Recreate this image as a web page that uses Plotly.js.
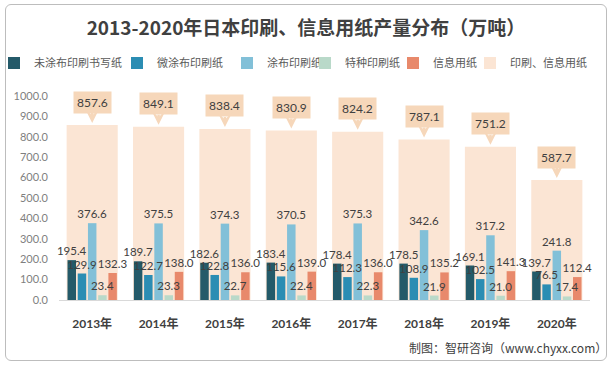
<!DOCTYPE html>
<html>
<head>
<meta charset="utf-8">
<script src="https://cdn.plot.ly/plotly-3.0.1.min.js"></script>
<style>
html,body{margin:0;padding:0;background:#fff;}
#wrap{position:relative;width:612px;height:369px;}
#chart{position:absolute;left:0;top:0;width:612px;height:369px;}
#frame{position:absolute;left:5px;top:4px;width:600px;height:355px;border:1px solid #bdbdbd;border-radius:6px;pointer-events:none;}
</style>
</head>
<body>
<div id="wrap"><div id="chart"></div><div id="frame"></div></div>
<script>
const years = ['2013年','2014年','2015年','2016年','2017年','2018年','2019年','2020年'];
const uncoated = [195.4,189.7,182.6,183.4,178.4,178.5,169.1,139.7];
const lightCoated = [129.9,122.7,122.8,115.6,112.3,108.9,102.5,76.5];
const coated = [376.6,375.5,374.3,370.5,375.3,342.6,317.2,241.8];
const special = [23.4,23.3,22.7,22.4,22.3,21.9,21.0,17.4];
const info = [132.3,138.0,136.0,139.0,136.0,135.2,141.3,112.4];
const total = [857.6,849.1,838.4,830.9,824.2,787.1,751.2,587.7];

const seriesNames = ['未涂布印刷书写纸','微涂布印刷纸','涂布印刷纸','特种印刷纸','信息用纸'];
const seriesData = [uncoated, lightCoated, coated, special, info];
const seriesColors = ['#245a69','#2b8db3','#82c0d8','#b9d9c9','#e8896b'];
const totalName = '印刷、信息用纸';
const totalColor = '#fbe5d4';
const calloutColor = '#f6d7ba';

// legend text start positions (px, container)
const legendTextX = [34, 157, 267, 345, 433, 510];

const labelFont = {family:'Lato, "Open Sans", sans-serif', size:11.5, color:'#404040'};
const legendKeys = ['legend','legend2','legend3','legend4','legend5','legend6'];

const M = {l:59, r:22, t:96, b:69};
const plotW = 612 - M.l - M.r;

const traces = [];
traces.push({
  type:'bar', x:years, y:total, name:totalName, xaxis:'x', yaxis:'y',
  marker:{color:totalColor}, width:0.77, legend:legendKeys[5], hoverinfo:'skip'
});
seriesData.forEach((d,i)=>{
  traces.push({
    type:'bar', x:years, y:d, name:seriesNames[i], xaxis:'x2', yaxis:'y',
    marker:{color:seriesColors[i]}, legend:legendKeys[i]
  });
});
// text layer on top of all bars
seriesData.forEach((d,i)=>{
  traces.push({
    type:'bar', x:years, y:d, name:seriesNames[i]+' 标签', xaxis:'x3', yaxis:'y',
    marker:{color:'rgba(0,0,0,0)'}, showlegend:false,
    text:d.map(v=>v.toFixed(1)), textposition:'outside', textangle:0,
    constraintext:'none', cliponaxis:false, textfont:labelFont
  });
});

const annotations = years.map((yr,i)=>({
  x:yr, y:total[i], xref:'x', yref:'y',
  text:total[i].toFixed(1), showarrow:true, ax:0, ay:-23,
  arrowcolor:calloutColor, arrowwidth:2.5, arrowhead:3, arrowsize:1, standoff:2,
  bgcolor:calloutColor, borderpad:3, font:{family:'Lato, "Open Sans", sans-serif', size:12, color:'#404040'}
}));
annotations.push({
  xref:'paper', yref:'paper', x:1.035, y:-0.235, xanchor:'right', yanchor:'middle',
  showarrow:false, text:'制图：智研咨询（www.chyxx.com）',
  font:{family:'"Noto Sans CJK SC", sans-serif', size:12, color:'#404040'}
});

const layout = {
  width:612, height:369,
  margin:{l:M.l, r:M.r, t:M.t, b:M.b, autoexpand:false},
  paper_bgcolor:'#ffffff', plot_bgcolor:'#ffffff',
  font:{family:'"Noto Sans CJK SC", sans-serif', color:'#404040'},
  title:{text:'<b>2013-2020年日本印刷、信息用纸产量分布（万吨）</b>', xref:'container', x:0.5, xanchor:'center', yref:'container', y:0.922, yanchor:'middle',
    font:{family:'"Noto Sans CJK SC", sans-serif', size:19, color:'#404040'}},
  barmode:'group', bargap:0.23, bargroupgap:0.17,
  showlegend:true,
  xaxis:{type:'category', showgrid:false, showline:false, ticks:'', ticklabelstandoff:15,
    tickfont:{family:'Lato, "Noto Sans CJK SC", sans-serif', size:12, color:'#404040', weight:'bold'}},
  xaxis2:{type:'category', overlaying:'x', matches:'x', showticklabels:false, showgrid:false, showline:false, ticks:''},
  xaxis3:{type:'category', overlaying:'x', matches:'x', showticklabels:false, showgrid:false, showline:false, ticks:''},
  yaxis:{range:[0,1000], dtick:100, tickformat:'.1f', showgrid:false, zeroline:true, zerolinecolor:'#d9d9d9', zerolinewidth:1,
    showline:false, ticks:'', ticklabelstandoff:10,
    tickfont:{family:'Lato, "Open Sans", sans-serif', size:11, color:'#7f7f7f'}},
  annotations:annotations
};
legendKeys.forEach((k,i)=>{
  layout[k] = {orientation:'h', xref:'paper', yref:'container', x:(legendTextX[i]-40-M.l)/plotW, y:1-63/369,
    xanchor:'left', yanchor:'middle', bgcolor:'rgba(0,0,0,0)', borderwidth:0,
    font:{family:'"Noto Sans CJK SC", sans-serif', size:11, color:'#595959'}};
});

Plotly.newPlot('chart', traces, layout, {displayModeBar:false, staticPlot:true});
</script>
</body>
</html>
